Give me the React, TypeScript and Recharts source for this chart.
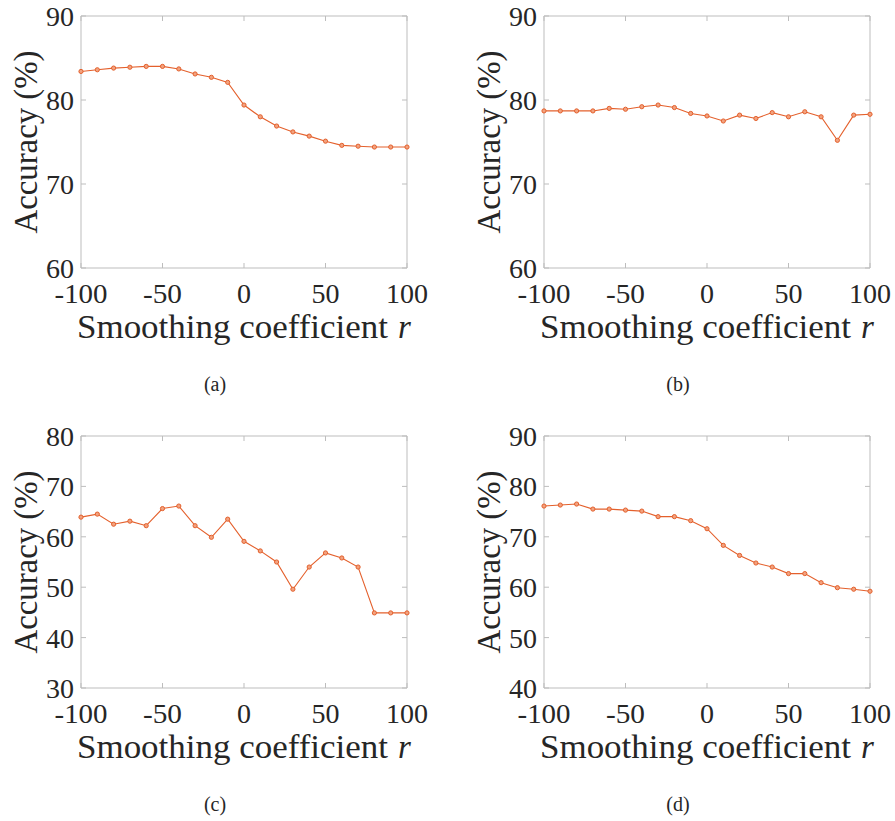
import React from 'react';
import { LineChart, Line, XAxis, YAxis, ReferenceLine } from 'recharts';

const smoothing = [-100, -90, -80, -70, -60, -50, -40, -30, -20, -10, 0, 10, 20, 30, 40, 50, 60, 70, 80, 90, 100];
const accA = [83.4, 83.6, 83.8, 83.9, 84.0, 84.0, 83.7, 83.1, 82.7, 82.1, 79.4, 78.0, 76.9, 76.2, 75.7, 75.1, 74.6, 74.5, 74.4, 74.4, 74.4];
const accB = [78.7, 78.7, 78.7, 78.7, 79.0, 78.9, 79.2, 79.4, 79.1, 78.4, 78.1, 77.5, 78.2, 77.8, 78.5, 78.0, 78.6, 78.0, 75.2, 78.2, 78.3];
const accC = [63.9, 64.5, 62.5, 63.1, 62.2, 65.6, 66.1, 62.2, 59.9, 63.5, 59.1, 57.2, 55.0, 49.6, 54.0, 56.8, 55.8, 54.0, 44.9, 44.9, 44.9];
const accD = [76.1, 76.3, 76.5, 75.5, 75.5, 75.3, 75.1, 74.0, 74.0, 73.2, 71.6, 68.3, 66.3, 64.8, 64.0, 62.7, 62.7, 60.9, 59.9, 59.6, 59.2];
const xTicks = [-100, -50, 0, 50, 100];
const yTicksA = [60, 70, 80, 90];
const yTicksB = [60, 70, 80, 90];
const yTicksC = [30, 40, 50, 60, 70, 80];
const yTicksD = [40, 50, 60, 70, 80, 90];
const captions = ['(a)', '(b)', '(c)', '(d)'];
const xLabelText = 'Smoothing coefficient';
const xLabelVar = 'r';
const yLabelText = 'Accuracy (%)';

const LINE = '#E4602C';
const DOT_FILL = '#F2A27F';
const AXIS = '#BDBDBD';
const TEXT = '#262626';
const FONT = "'Liberation Serif', 'Times New Roman', Times, serif";

const CW = 432;
const CH = 410;
const M = { top: 16, right: 25, bottom: 112, left: 21 };
const YW = 60;
const XH = 30;
const PL = M.left + YW; // 81
const PT = M.top; // 16
const PW = CW - PL - M.right; // 326
const PH = CH - M.top - M.bottom - XH; // 252
const PB = PT + PH;

const tickLen = (s: string) => {
  let w = 0;
  for (const ch of s) w += ch === '-' ? 11 : 14;
  return w;
};

const XTick = (props: any) => {
  const { x, y, payload } = props;
  const s = String(payload.value);
  return (
    <g>
      <line x1={x} x2={x} y1={y} y2={y - 5} stroke={AXIS} />
      <line x1={x} x2={x} y1={y - PH} y2={y - PH + 5} stroke={AXIS} />
      <text
        x={x}
        y={y + 35}
        textAnchor="middle"
        fontFamily={FONT}
        fontSize={28}
        fill={TEXT}
        textLength={tickLen(s)}
        lengthAdjust="spacingAndGlyphs"
      >
        {s}
      </text>
    </g>
  );
};

const YTick = (props: any) => {
  const { x, y, payload } = props;
  const s = String(payload.value);
  return (
    <g>
      <line x1={x} x2={x + 5} y1={y} y2={y} stroke={AXIS} />
      <line x1={x + PW} x2={x + PW - 5} y1={y} y2={y} stroke={AXIS} />
      <text
        x={x - 7}
        y={y + 10}
        textAnchor="end"
        fontFamily={FONT}
        fontSize={28}
        fill={TEXT}
        textLength={tickLen(s)}
        lengthAdjust="spacingAndGlyphs"
      >
        {s}
      </text>
    </g>
  );
};

const makeXLabel = (caption: string) => () => (
  <g>
    <text
      x={PL - 4}
      y={PB + 70}
      fontFamily={FONT}
      fontSize={33}
      fill={TEXT}
      textLength={311}
      lengthAdjust="spacingAndGlyphs"
    >
      {xLabelText}
    </text>
    <text x={PL + PW - 9} y={PB + 70} fontFamily={FONT} fontSize={33} fontStyle="italic" fill={TEXT}>
      {xLabelVar}
    </text>
    <text
      x={PL + PW / 2 - 29}
      y={PB + 123}
      textAnchor="middle"
      fontFamily={FONT}
      fontSize={20}
      fill={TEXT}
    >
      {caption}
    </text>
  </g>
);

const YLabel = () => {
  const bx = PL - 44;
  const cy = PT + PH / 2;
  return (
    <text
      x={bx}
      y={cy}
      transform={`rotate(-90, ${bx}, ${cy})`}
      textAnchor="middle"
      fontFamily={FONT}
      fontSize={33}
      fill={TEXT}
      textLength={183}
      lengthAdjust="spacingAndGlyphs"
    >
      {yLabelText}
    </text>
  );
};

type PanelProps = { values: number[]; yTicks: number[]; caption: string; left: number; top: number };

const Panel = ({ values, yTicks, caption, left, top }: PanelProps) => {
  const data = smoothing.map((r, i) => ({ r, acc: values[i] }));
  const yMin = yTicks[0];
  const yMax = yTicks[yTicks.length - 1];
  return (
    <div style={{ position: 'absolute', left, top, width: CW, height: CH }}>
      <LineChart width={CW} height={CH} data={data} margin={M}>
        <XAxis
          dataKey="r"
          type="number"
          domain={[-100, 100]}
          ticks={xTicks}
          interval={0}
          height={XH}
          tickSize={0}
          tickMargin={0}
          tickLine={false}
          axisLine={{ stroke: AXIS }}
          tick={(p: any) => <XTick {...p} />}
          label={{ content: makeXLabel(caption) }}
        />
        <YAxis
          type="number"
          domain={[yMin, yMax]}
          ticks={yTicks}
          interval={0}
          width={YW}
          tickSize={0}
          tickMargin={0}
          tickLine={false}
          axisLine={{ stroke: AXIS }}
          tick={(p: any) => <YTick {...p} />}
          label={{ content: YLabel }}
        />
        <ReferenceLine y={yMax} stroke={AXIS} />
        <ReferenceLine x={100} stroke={AXIS} />
        <Line
          type="linear"
          dataKey="acc"
          stroke={LINE}
          strokeWidth={1.1}
          dot={{ r: 2.1, stroke: LINE, strokeWidth: 1, fill: DOT_FILL }}
          activeDot={false}
          isAnimationActive={false}
        />
      </LineChart>
    </div>
  );
}

export default function App() {
  return (
    <div
      style={{
        position: 'absolute',
        left: 0,
        top: 0,
        width: 895,
        height: 821,
        overflow: 'hidden',
        background: '#ffffff',
      }}
    >
      <Panel values={accA} yTicks={yTicksA} caption={captions[0]} left={0} top={0} />
      <Panel values={accB} yTicks={yTicksB} caption={captions[1]} left={463} top={0} />
      <Panel values={accC} yTicks={yTicksC} caption={captions[2]} left={0} top={420} />
      <Panel values={accD} yTicks={yTicksD} caption={captions[3]} left={463} top={420} />
    </div>
  );
}
